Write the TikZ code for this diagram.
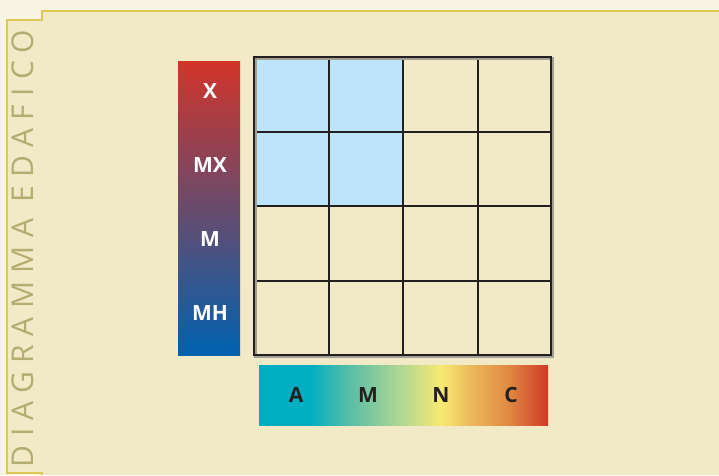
\documentclass[tikz,border=0pt]{standalone}
\usepackage{fontspec}
\setmainfont{Open Sans}
\newfontfamily\titlefont[LetterSpace=28]{Open Sans}
\definecolor{paperbg}{HTML}{F8F4E4}
\definecolor{sheetbg}{HTML}{F2E9C7}
\definecolor{sheetline}{HTML}{DEC752}
\definecolor{titlegray}{HTML}{B4AC70}
\definecolor{gridline}{HTML}{231F20}
\definecolor{cellblue}{HTML}{BDE4F8}
\definecolor{barred}{HTML}{D2342A}
\definecolor{barmid}{HTML}{7C5B7A}
\definecolor{barblue}{HTML}{0062B0}
\definecolor{soilA}{HTML}{00AEC2}
\definecolor{soilB}{HTML}{5CBFA6}
\definecolor{soilC}{HTML}{B6D892}
\definecolor{soilD}{HTML}{F8EA72}
\definecolor{soilE}{HTML}{EDBE5E}
\definecolor{soilF}{HTML}{E08A42}
\definecolor{soilG}{HTML}{D03A28}
\pgfdeclarehorizontalshading{soilbar}{100bp}{color(0bp)=(soilA); color(25bp)=(soilA);
 color(33.8bp)=(soilA); color(41bp)=(soilB); color(50bp)=(soilC); color(56.5bp)=(soilD);
 color(61bp)=(soilE); color(68bp)=(soilF); color(75bp)=(soilG); color(100bp)=(soilG)}
\tikzset{
 moistlabel/.style={text=white,font=\bfseries\fontsize{21}{21}\selectfont,inner sep=0pt},
 soillabel/.style={text=gridline,font=\bfseries\fontsize{21}{21}\selectfont,inner sep=0pt}
}
\begin{document}
\begin{tikzpicture}[x=1pt,y=-1pt,line join=miter]
\useasboundingbox (0,0) rectangle (719,475);
% page and sheet
\fill[paperbg] (0,0) rectangle (719,475);
\fill[sheetbg] (7,20)--(42,20)--(42,11)--(719,11)--(719,475)--(42,475)--(42,473)--(7,473)--cycle;
\draw[sheetline,line width=1.3pt] (719,11)--(42,11)--(42,20)--(7,20)--(7,473)--(42,473)--(42,475);
\node[titlegray,rotate=90,font=\titlefont\fontsize{30}{30}\selectfont,inner sep=0pt]
 (title) at (23,248.5) {DIAGRAMMA EDAFICO};
% moisture bar
\shade[top color=barred,middle color=barmid,bottom color=barblue] (178,61) rectangle (240,355);
\foreach \lab/\yy [count=\i] in {X/91,MX/165,M/239,MH/313}
 \node[moistlabel] (moist\i) at (210,\yy) {\lab};
% grid
\fill[cellblue] (254,57) rectangle (403,206);
\foreach \xx in {329,403,478}
 \draw[gridline,line width=1.1pt] (\xx,57)--(\xx,355);
\foreach \yy in {132,206,281}
 \draw[gridline,line width=1.1pt] (254,\yy)--(551,\yy);
\draw[gray!70!sheetbg,line width=2.4pt] (255.5,58.5) rectangle (552.5,356.5);
\draw[gridline,line width=2.4pt] (254,57) rectangle (551,355);
% soil bar
\shade[shading=soilbar] (259,365) rectangle (548,425);
\foreach \lab/\xx [count=\i] in {A/296,M/368,N/441,C/511}
 \node[soillabel] (soil\i) at (\xx,395) {\lab};
\end{tikzpicture}
\end{document}
